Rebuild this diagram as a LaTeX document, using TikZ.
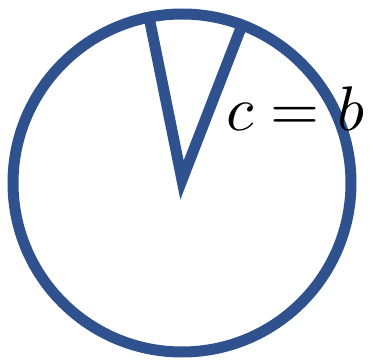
\documentclass[tikz,border=0pt]{standalone}
\usepackage{graphicx}
\definecolor{ringblue}{RGB}{47,82,143}
\begin{document}
\begin{tikzpicture}[x=1pt,y=-1pt,
  ring/.style={draw=ringblue,line width=11pt},
  lbl/.style={inner sep=0pt,anchor=base west}]
\useasboundingbox (0,0) rectangle (373,361);
\coordinate (o) at (182,183);
\coordinate (apex) at (182,180);
\coordinate (p1) at (148,12);
\coordinate (p2) at (244,20);
\draw[ring] (o) circle[radius=169];
\draw[ring,line join=miter] (p1) -- (apex) -- (p2);
\node[lbl] (t) at (226,131) {\scalebox{6.3}{$c=b$}};
\end{tikzpicture}
\end{document}
